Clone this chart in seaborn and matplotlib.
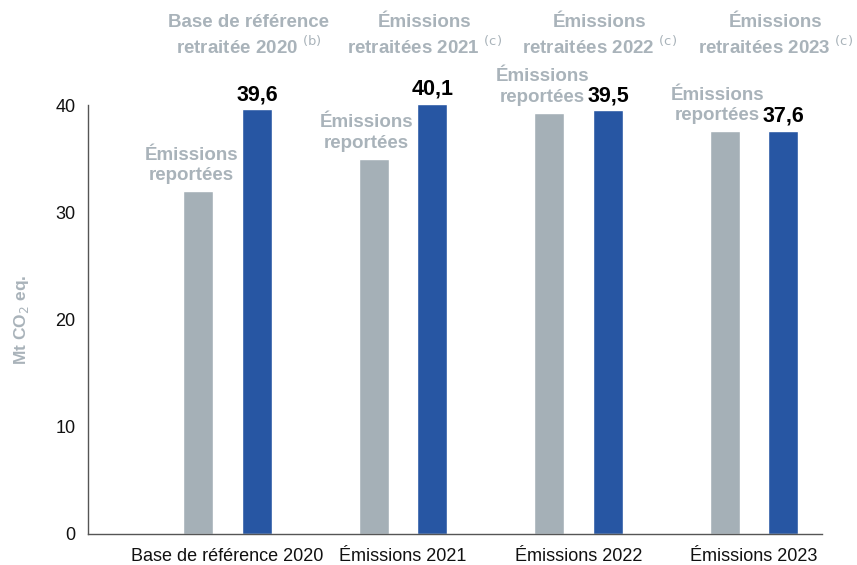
import matplotlib
matplotlib.use("Agg")
import matplotlib.pyplot as plt
import matplotlib.transforms as mtransforms
import pandas as pd
import seaborn as sns

# Données (Mt CO2 eq.)
categories = ["Base de référence 2020", "Émissions 2021", "Émissions 2022", "Émissions 2023"]
series = ["Émissions reportées", "Émissions retraitées"]
reportees = [32.0, 35.0, 39.3, 37.6]
retraitees = [39.6, 40.1, 39.5, 37.6]
valeurs_labels = ["39,6", "40,1", "39,5", "37,6"]
titres_haut = [
    "Base de référence\nretraitée 2020 $^{\\mathrm{(b)}}$",
    "Émissions\nretraitées 2021 $^{\\mathrm{(c)}}$",
    "Émissions\nretraitées 2022 $^{\\mathrm{(c)}}$",
    "Émissions\nretraitées 2023 $^{\\mathrm{(c)}}$",
]
label_gris = "Émissions\nreportées"

GRIS = "#a5b0b7"
BLEU = "#2756a3"
GRIS_TXT = "#a9b3ba"

sns.set_theme(style="white")
plt.rcParams["font.family"] = ["Liberation Sans", "DejaVu Sans"]

df = pd.DataFrame({
    "categorie": categories * 2,
    "serie": [series[0]] * 4 + [series[1]] * 4,
    "valeur": reportees + retraitees,
})

fig = plt.figure(figsize=(8.57, 5.65), dpi=100)
ax = fig.add_axes([88 / 857, 31 / 565, 734 / 857, 514.8 / 565])

sns.barplot(data=df, x="categorie", y="valeur", hue="serie", order=categories,
            hue_order=series, palette=[GRIS, BLEU], width=0.67, gap=0.49,
            saturation=1, legend=False, ax=ax)

ax.set_xlim(-0.795, 3.387)
ax.set_ylim(0, 48)
ax.set_yticks([0, 10, 20, 30, 40])
ax.spines["left"].set_bounds(0, 40)
for s in ["top", "right"]:
    ax.spines[s].set_visible(False)
for s in ["left", "bottom"]:
    ax.spines[s].set_color("#555555")
    ax.spines[s].set_linewidth(1.0)
ax.tick_params(axis="y", direction="in", length=14.4, width=1.0, color="#555555",
               pad=9, labelsize=13, labelcolor="#111111")
ax.tick_params(axis="x", length=0, pad=10)
ax.set_xticks(range(len(categories)))
ax.set_xticklabels(categories, fontsize=13, color="#111111")
ax.set_xlabel("")
ax.set_ylabel("Mt CO$_2$ eq.", fontsize=12.5, fontweight="bold", color=GRIS_TXT)
ax.yaxis.set_label_coords(-0.078, 20,
                          transform=mtransforms.blended_transform_factory(ax.transAxes, ax.transData))

off = 0.168
for i in range(len(categories)):
    # valeur retraitée au-dessus de la barre bleue
    ax.annotate(valeurs_labels[i], (i + off, retraitees[i]), xytext=(0, 3),
                textcoords="offset points", ha="center", va="bottom",
                fontsize=15.5, fontweight="bold", color="black")
    # étiquette grise au-dessus de la barre grise
    ax.annotate(label_gris, (i - off, reportees[i]), xytext=(-5, 5),
                textcoords="offset points", ha="center", va="bottom",
                fontsize=13.5, fontweight="bold", color=GRIS_TXT, linespacing=1.25)
    # titres en haut
    ax.text(i + 0.12, 46.4, titres_haut[i], ha="center", va="center",
            fontsize=13.5, fontweight="bold", color=GRIS_TXT, linespacing=1.25)

fig.savefig("out.png", dpi=100)
